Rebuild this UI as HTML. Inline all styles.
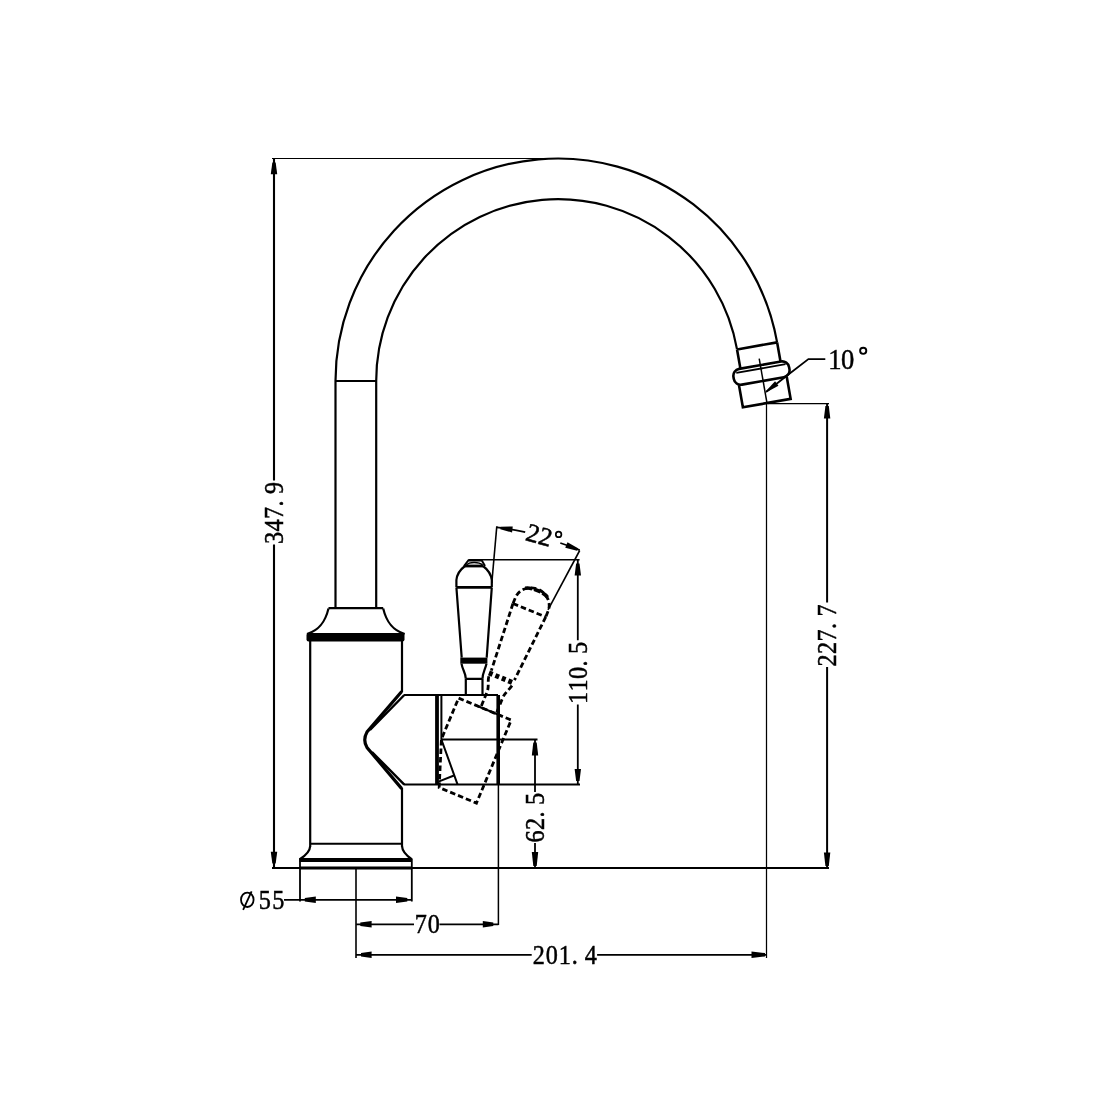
<!DOCTYPE html>
<html><head><meta charset="utf-8">
<style>
html,body{margin:0;padding:0;background:#fff;width:1109px;height:1109px;overflow:hidden}
svg{display:block;will-change:transform}
text{font-family:"Liberation Serif",serif;fill:#000;stroke:#000;stroke-width:0.5;-webkit-font-smoothing:antialiased}
</style></head>
<body>
<svg width="1109" height="1109" viewBox="0 0 1109 1109">
<rect width="1109" height="1109" fill="#fff"/>
<g fill="none" stroke="#000" stroke-width="2.2" stroke-linecap="butt">
<!-- SPOUT -->
<path d="M335.5 381 A222.5 222.5 0 0 1 777.12 342.36"/>
<path d="M376.2 381 A181.8 181.8 0 0 1 737.04 349.43"/>
<path d="M335.5 381 V608 M376.2 381 V608"/>
<path d="M335.5 381 H376.2" stroke-width="1.8"/>
<!-- nozzle -->
<g transform="rotate(-10 558 381)" stroke-width="2.6">
<path d="M739.8 381 H780.5 M739.8 381 V400.5 M780.5 381 V400.5" />
<rect x="731.5" y="400.5" width="56.5" height="16" rx="7"/>
<path d="M735 404 H785" stroke-width="1.8"/>
<path d="M735.5 416.5 V439 H784 V416.5"/>
<path d="M760 394 V439" stroke-width="1.5"/>
</g>
<!-- collar -->
<path d="M328.5 608.2 H383.2"/>
<path d="M328.5 608.5 C325.5 621 320 630 307 634"/>
<path d="M383.2 608.5 C386.2 621 391.7 630 404.7 634"/>
<!-- body -->
<path d="M310.2 641 V846.5 M402 641 V692 M402 788 V846.5"/>
<path d="M310.2 843.7 H402" stroke-width="2"/>
<path d="M310.2 846 C310 852 305 856 299.5 859.5"/>
<path d="M402 846 C402.2 852 407 856 412 859.5"/>
<path d="M300 859 V901.5 M411.8 859 V901.5" stroke-width="1.8"/>
<!-- side outlet -->
<path d="M401.7 691.5 L367 732 Q362.5 740 367 747.5 L401.7 788.6" stroke-width="3.2"/>
<path d="M404.3 695 L370 730 M404.3 784.6 L372 752" stroke-width="2.4"/>
<!-- housing -->
<path d="M404 695 H498 M404 784.6 H580" stroke-width="2"/>
<path d="M441.4 695 V739.5 L457.6 784.6" stroke-width="2"/>
<path d="M441.4 739.5 H537.5" stroke-width="1.8"/>
<path d="M437 695 V784.6" stroke-width="3.8"/>
<path d="M438.5 781.6 L454 775.5" stroke-width="2"/>
<path d="M498.2 695 V784.6" stroke-width="3.6"/>
<path d="M498.4 784.6 V925" stroke-width="1.5"/>
<!-- stem -->
<path d="M465.8 678.8 V695 M482.5 678.8 V695 M465.8 678.8 H482.5" stroke-width="2.2"/>
<!-- handle -->
<path d="M456.4 587.3 L461.7 657.6 M491.8 587.3 L486.7 657.6"/>
<path d="M456.4 587.3 H491.8" stroke-width="2.8"/>
<path d="M456.4 587 V580 C457 574 461 569 465 566 M491.8 587 V580 C491 574 487 569 483 566"/>
<path d="M464 566 L468.3 560.5 H481.8 L485 566" stroke-width="2"/>
<path d="M466.5 565 C469 561.5 479 561.5 482.5 565" stroke-width="1.5"/>
<path d="M461.5 663.7 C462.5 670 465.8 673 465.8 678.8 M486.5 663.7 C485 670 482.5 673 482.5 678.8"/>
</g>
<g fill="#000">
<rect x="306.5" y="633" width="98" height="8.5" rx="2"/>
<rect x="299.5" y="858" width="112.5" height="4"/>
<rect x="460.3" y="657.6" width="27.1" height="6.1"/>
<rect x="465" y="564.6" width="18" height="2.8"/>
</g>
<!-- dashed rotated handle + housing -->
<g transform="rotate(22.7 442.1 740.4)" fill="none" stroke="#000" stroke-width="2.8" stroke-dasharray="5.5 3">
<path d="M441 695 H498 V785 H457.6 L441 739.5 Z"/>
<path d="M460 695 H487" stroke-dasharray="none" stroke-width="2.2"/>
</g>
<g transform="rotate(22.2 443.3 739.6)" fill="none" stroke="#000" stroke-width="2.8" stroke-dasharray="5.5 3">
<path d="M456.4 587.3 L461.7 657.6 M491.8 587.3 L486.7 657.6"/>
<path d="M461.5 663.7 C462.5 670 465.8 673 465.8 678.8 V695 M486.5 663.7 C485 670 482.5 673 482.5 678.8 V695"/>
<path d="M456.4 587.3 H491.8"/>
<path d="M456.4 587 V580 C457 572 463 565.5 474 564.5 C485 565.5 491 572 491.8 580 V587"/>
<path d="M462 568.5 C467 565 481 565 486 568.5" stroke-width="3.6" stroke-dasharray="7 2"/>
<path d="M460.3 660.6 H487.4" stroke-width="5" stroke-dasharray="4 3"/>
</g>
<!-- DIMENSIONS -->
<g fill="none" stroke="#000">
<path d="M272 158.5 H559" stroke-width="1.2"/>
<path d="M274 158.5 V480.5 M274 544.5 V868" stroke-width="2.1"/>
<path d="M272 868 H829" stroke-width="2.2"/>
<path d="M300 868 H412" stroke-width="3"/>
<path d="M766.5 404 V958" stroke-width="1.25"/>
<path d="M768 403.5 H829" stroke-width="1.25"/>
<path d="M827.1 404 V602.5 M827.1 667 V868" stroke-width="2"/>
<polyline points="766,392 788.1,374.7 808.4,359.1 825.3,359.1" stroke-width="1.8"/>
<path d="M468.3 559.7 H579.6" stroke-width="1.6"/>
<path d="M577.8 560 V640.3 M577.8 704.5 V784.6" stroke-width="1.8"/>
<path d="M535 739.7 V792 M535 843 V868" stroke-width="1.8"/>
<path d="M496.8 526.3 L491.8 583" stroke-width="1.6"/>
<path d="M579.7 550.5 L548 609.9" stroke-width="1.6"/>
<path d="M496.8 527.4 A219.5 219.5 0 0 1 525.2 532.1" stroke-width="1.8"/>
<path d="M560.3 543 A219.5 219.5 0 0 1 579.7 550.2" stroke-width="1.8"/>
<path d="M356 868 V958" stroke-width="1.6"/>
<path d="M284 899.8 H411.8" stroke-width="1.8"/>
<path d="M356.2 924.3 H414 M439.5 924.3 H498.4" stroke-width="1.8"/>
<path d="M356 954.8 H531.7 M597.1 954.8 H766.5" stroke-width="1.8"/>
</g>
<!-- arrows -->
<g fill="#000">
<polygon points="0,-1.7 0,1.7 -11.8,3.2 -11.8,-3.2" transform="translate(274 162.5) rotate(-90)"/>
<polygon points="0,-1.7 0,1.7 -11.8,3.2 -11.8,-3.2" transform="translate(274 863.5) rotate(90)"/>
<polygon points="0,-1.7 0,1.7 -12.5,3.2 -12.5,-3.2" transform="translate(827.1 406) rotate(-90)"/>
<polygon points="0,-1.7 0,1.7 -13.5,3.2 -13.5,-3.2" transform="translate(827.1 866) rotate(90)"/>
<polygon points="0,-1.7 0,1.7 -12,3.2 -12,-3.2" transform="translate(577.8 563.5) rotate(-90)"/>
<polygon points="0,-1.7 0,1.7 -12,3.2 -12,-3.2" transform="translate(577.8 781) rotate(90)"/>
<polygon points="0,-1.7 0,1.7 -13,3.2 -13,-3.2" transform="translate(535 742.5) rotate(-90)"/>
<polygon points="0,-1.7 0,1.7 -14,3.2 -14,-3.2" transform="translate(535 866) rotate(90)"/>
<polygon points="0,-1.7 0,1.7 -11,3.2 -11,-3.2" transform="translate(304.8 899.8) rotate(180)"/>
<polygon points="0,-1.7 0,1.7 -11.3,3.2 -11.3,-3.2" transform="translate(407.3 899.8) rotate(0)"/>
<polygon points="0,-1.7 0,1.7 -11.3,3.2 -11.3,-3.2" transform="translate(360.3 924.3) rotate(180)"/>
<polygon points="0,-1.7 0,1.7 -10.5,3.2 -10.5,-3.2" transform="translate(493.3 924.3) rotate(0)"/>
<polygon points="0,-1.7 0,1.7 -10.6,3.2 -10.6,-3.2" transform="translate(361 954.8) rotate(180)"/>
<polygon points="0,-1.7 0,1.7 -13.5,3.2 -13.5,-3.2" transform="translate(765 954.8) rotate(0)"/>
<polygon points="0,-1.3 0,1.3 -12,3.0 -12,-3.0" transform="translate(500.5 528) rotate(187)"/>
<polygon points="0,-1.3 0,1.3 -12,3.0 -12,-3.0" transform="translate(577.5 549.5) rotate(22)"/>
<polygon points="0,-0.75 0,0.75 -13,2.75 -13,-2.75" transform="translate(766.5 391.5) rotate(142)"/>
</g>
<!-- texts -->
<text transform="translate(283 544.5) rotate(-90) scale(0.88 1)" font-size="27.5" x="0.57 14.78 28.98 43.18 57.39">347.9</text>
<text transform="translate(587.3 704.5) rotate(-90) scale(0.88 1)" font-size="27.5" x="0.57 14.78 28.98 43.18 57.39">110.5</text>
<text transform="translate(544.3 843) rotate(-90) scale(0.88 1)" font-size="27.5" x="0.57 14.78 28.98 43.18">62.5</text>
<text transform="translate(836.3 667) rotate(-90) scale(0.88 1)" font-size="27.5" x="0.57 14.78 28.98 43.18 57.39">227.7</text>
<text transform="translate(532.3 963.8) scale(0.88 1)" font-size="27.5" x="0.57 15.34 30.11 44.89 59.66">201.4</text>
<text transform="translate(414.2 933) scale(0.88 1)" font-size="27.5" x="0.57 15.34">70</text>
<text transform="translate(258.3 908.9) scale(0.88 1)" font-size="27.5" x="0.57 15.91">55</text>
<text transform="translate(828.3 368.6) scale(0.9 1)" font-size="29.5" x="0 14.2">10</text>
<circle cx="863.2" cy="350.8" r="3.1" fill="none" stroke="#000" stroke-width="1.9"/>
<text transform="translate(524.5 540) rotate(15.2)" font-size="26" x="0 13">22</text>
<circle cx="558.6" cy="534.4" r="2.8" fill="none" stroke="#000" stroke-width="1.7"/>
<g fill="none" stroke="#000" stroke-width="1.8"><ellipse cx="247.3" cy="899.8" rx="6.3" ry="7.2"/><path d="M251.6 891.3 L243.1 909.8"/></g>
</svg>
</body></html>
